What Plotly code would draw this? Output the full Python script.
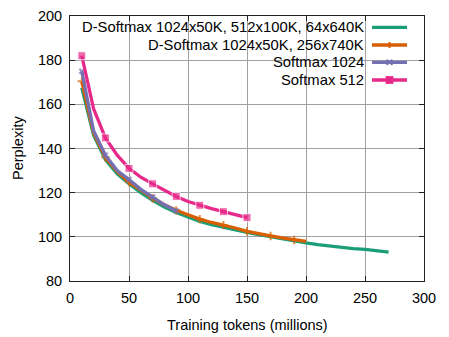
import plotly.graph_objects as go

# ---- data ----
x_green = [10, 20, 30, 40, 50, 60, 70, 80, 90, 100, 110, 120, 130, 140, 150, 160, 170, 180, 190, 200,
           210, 220, 230, 240, 250, 260, 270]
y_green = [167.5, 146, 135, 128.5, 124, 120, 116.5, 113.5, 111, 109, 107, 105.5, 104.3, 103, 102,
           101, 100, 99, 98.2, 97.3, 96.5, 95.8, 95.2, 94.7, 94.3, 93.8, 93.1]

x_orange = [10, 20, 30, 40, 50, 60, 70, 80, 90, 100, 110, 120, 130, 140, 150, 160, 170, 180, 190, 200]
y_orange = [170.4, 147, 136, 129.5, 124.8, 121, 117.5, 114.5, 112, 110, 108, 106.5, 105.3, 104,
            102.5, 101.3, 100.4, 99.5, 98.6, 97.9]

x_purple = [10, 20, 30, 40, 50, 60, 70, 80, 90]
y_purple = [175, 148, 137, 130, 126, 121.5, 118, 114.5, 111.7]

x_pink = [10, 20, 30, 40, 50, 60, 70, 80, 90, 100, 110, 120, 130, 140, 150]
y_pink = [182, 158, 144.8, 137, 131, 127, 124, 121, 118.3, 116, 114.3, 112.8, 111.4, 110, 108.7]

names = ["D-Softmax 1024x50K, 512x100K, 64x640K", "D-Softmax 1024x50K, 256x740K",
         "Softmax 1024", "Softmax 512"]
colors = ["#1b9e77", "#d95f02", "#7570b3", "#e7298a"]

x_ticks = [0, 50, 100, 150, 200, 250, 300]
y_ticks = [80, 100, 120, 140, 160, 180, 200]

x_title = "Training tokens (millions)"
y_title = "Perplexity"

FONT = "Liberation Sans, Arial, sans-serif"
FS = 14.5

# page body has an 8px margin; compensate so the plot area lands at screen px 70..424 x 16..281
OFF = 8
W, H = 449 - OFF, 337 - OFF
ML, MT = 70 - OFF, 16 - OFF
PW, PH = 354, 265
MR, MB = W - ML - PW, H - MT - PH


def px_x(p):  # screen pixel -> paper x
    return (p - 70) / PW


def px_y(p):  # screen pixel -> paper y
    return (281 - p) / PH


def every_other(n, size):
    return [size if i % 2 == 0 else 0 for i in range(n)]


fig = go.Figure()
fig.add_trace(go.Scatter(x=x_green, y=y_green, mode="lines", name=names[0],
                         line=dict(color=colors[0], width=3.3)))
fig.add_trace(go.Scatter(x=x_orange, y=y_orange, mode="lines+markers", name=names[1],
                         line=dict(color=colors[1], width=3.3),
                         marker=dict(symbol="cross-thin-open", size=every_other(len(x_orange), 6),
                                     line=dict(color=colors[1], width=2))))
fig.add_trace(go.Scatter(x=x_purple, y=y_purple, mode="lines+markers", name=names[2],
                         line=dict(color=colors[2], width=3.3),
                         marker=dict(symbol="x-thin-open", size=every_other(len(x_purple), 5),
                                     line=dict(color=colors[2], width=2))))
fig.add_trace(go.Scatter(x=x_pink, y=y_pink, mode="lines+markers", name=names[3],
                         line=dict(color=colors[3], width=3.3),
                         marker=dict(symbol="square", size=every_other(len(x_pink), 8),
                                     color=colors[3])))

shapes = []
# opaque key box hiding the grid
shapes.append(dict(type="rect", xref="paper", yref="paper", x0=0, x1=1, y0=px_y(88), y1=1,
                   fillcolor="white", line=dict(width=0), layer="between"))

# manual key (text right-aligned, sample on the right)
row_px = [27.3, 45, 62.3, 80]
row_y = [px_y(p) for p in row_px]
annotations = []
lx0, lx1 = px_x(372), px_x(407)
lxm = (lx0 + lx1) / 2
for i in range(4):
    annotations.append(dict(xref="paper", yref="paper", x=px_x(366), y=row_y[i], text=names[i],
                            showarrow=False, xanchor="right", yanchor="middle",
                            font=dict(family=FONT, size=14.8, color="black")))
    shapes.append(dict(type="line", xref="paper", yref="paper", x0=lx0, x1=lx1,
                       y0=row_y[i], y1=row_y[i], line=dict(color=colors[i], width=3.3), layer="above"))
# key markers
dy = 3.0 / PH
dx = 3.0 / PW
shapes.append(dict(type="line", xref="paper", yref="paper", x0=lxm, x1=lxm,
                   y0=row_y[1] - dy, y1=row_y[1] + dy, line=dict(color=colors[1], width=2)))
shapes.append(dict(type="line", xref="paper", yref="paper", x0=lxm - dx, x1=lxm + dx,
                   y0=row_y[2] - dy * 0.8, y1=row_y[2] + dy * 0.8, line=dict(color=colors[2], width=2)))
shapes.append(dict(type="line", xref="paper", yref="paper", x0=lxm - dx, x1=lxm + dx,
                   y0=row_y[2] + dy * 0.8, y1=row_y[2] - dy * 0.8, line=dict(color=colors[2], width=2)))
shapes.append(dict(type="rect", xref="paper", yref="paper", x0=lxm - 1.3 * dx, x1=lxm + 1.3 * dx,
                   y0=row_y[3] - 1.3 * dy, y1=row_y[3] + 1.3 * dy,
                   fillcolor=colors[3], line=dict(width=0)))

# axis titles as annotations
annotations.append(dict(xref="paper", yref="paper", x=px_x(247), y=px_y(325),
                        text=x_title, showarrow=False, xanchor="center", yanchor="middle",
                        font=dict(family=FONT, size=FS, color="black")))
annotations.append(dict(xref="paper", yref="paper", x=px_x(18), y=px_y(148),
                        text=y_title, showarrow=False, xanchor="center", yanchor="middle",
                        textangle=-90, font=dict(family=FONT, size=FS, color="black")))

axis_common = dict(showline=True, linecolor="#222222", linewidth=1, mirror="ticks",
                   ticks="inside", ticklen=5, tickcolor="#222222", tickwidth=1,
                   showgrid=True, gridcolor="#a0a0a0", gridwidth=1.3, zeroline=False,
                   automargin=False,
                   tickfont=dict(family=FONT, size=FS, color="black"))

fig.update_layout(
    width=W, height=H,
    margin=dict(l=ML, r=MR, t=MT, b=MB, autoexpand=False),
    plot_bgcolor="white", paper_bgcolor="white",
    showlegend=False,
    shapes=shapes, annotations=annotations,
    xaxis=dict(range=[0, 300], tickvals=x_ticks, ticktext=[str(v) for v in x_ticks],
               ticklabelstandoff=4, **axis_common),
    yaxis=dict(range=[80, 200], tickvals=y_ticks, ticktext=[str(v) for v in y_ticks],
               ticklabelstandoff=4, **axis_common),
)

fig.write_html("out.html")
